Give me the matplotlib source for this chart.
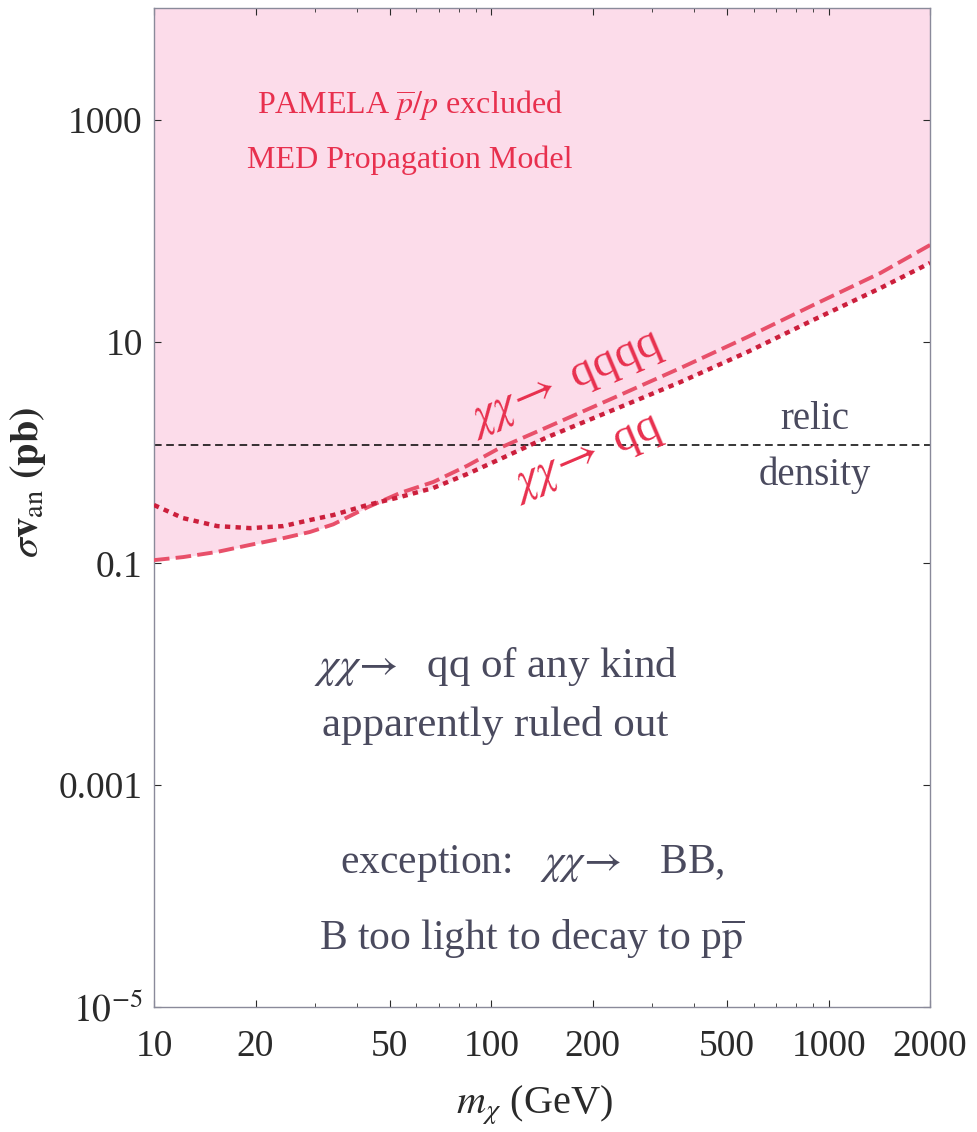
import numpy as np
import matplotlib
matplotlib.use('Agg')
import matplotlib.pyplot as plt

# data
mass = [10, 12.2, 15.4, 19.3, 24.2, 29, 34, 42.9, 53.7, 67.3, 84.9, 106,
        147, 230, 364, 575, 902, 1426, 2000]
sv_qq = [0.336, 0.256, 0.217, 0.208, 0.217, 0.246, 0.273, 0.336, 0.397,
         0.479, 0.64, 0.87, 1.38, 2.42, 4.32, 8.06, 15.7, 30.4, 51.2]
sv_qqqq = [0.107, 0.114, 0.127, 0.147, 0.169, 0.192, 0.225, 0.32, 0.432,
           0.542, 0.76, 1.10, 1.70, 3.10, 5.78, 11.0, 21.4, 41.6, 74.3]
relic = 1.17

xticks = [10, 20, 50, 100, 200, 500, 1000, 2000]
xticklabels = ['10', '20', '50', '100', '200', '500', '1000', '2000']
yticks = [1e-5, 1e-3, 1e-1, 10, 1000]
yticklabels = [r'$10^{-5}$', '0.001', '0.1', '10', '1000']

plt.rcParams['font.family'] = ['Liberation Serif', 'DejaVu Serif']
plt.rcParams['mathtext.fontset'] = 'stix'

red = '#e8304e'
textgray = '#4a4a5e'

fig = plt.figure(figsize=(9.77, 11.32), dpi=100)
ax = fig.add_axes([0.1576, 0.1104, 0.7944, 0.8826])

ax.set_xscale('log')
ax.set_yscale('log')
ax.set_xlim(10, 2000)
ax.set_ylim(1e-5, 1.02e4)

######################################################################
# excluded region and curves

lower = np.minimum(sv_qq, sv_qqqq)
ax.fill_between(mass, lower, 1.02e4, color='#fcdcea', lw=0, zorder=0)

ax.plot(mass, sv_qqqq, color='#e8506a', ls=(0, (4, 1.6)), lw=2.8, zorder=3)
ax.plot(mass, sv_qq, color='#cc1f3c', ls=(0, (1.2, 1.2)), lw=3.2, zorder=3)

ax.axhline(relic, color='k', ls=(0, (5, 3)), lw=1.1, zorder=2)

######################################################################
# annotations

ax.text(0.33, 0.876, 'PAMELA $\\overline{p}/p$ excluded\nMED Propagation Model',
        transform=ax.transAxes, ha='center', va='center', color=red,
        fontsize=23, linespacing=2.0)

ax.text(0.53, 0.625, '$\\chi\\chi\\!\\rightarrow$ qqqq', transform=ax.transAxes,
        ha='center', va='center', color=red, fontsize=34, rotation=23)
ax.text(0.557, 0.55, '$\\chi\\chi\\!\\rightarrow$ qq', transform=ax.transAxes,
        ha='center', va='center', color=red, fontsize=34, rotation=23)

ax.text(0.852, 0.56, 'relic\ndensity', transform=ax.transAxes,
        ha='center', va='center', color=textgray, fontsize=28,
        linespacing=1.65)

ax.text(0.44, 0.312, '$\\chi\\chi\\!\\rightarrow$  qq of any kind\napparently ruled out',
        transform=ax.transAxes, ha='center', va='center', color=textgray,
        fontsize=31, linespacing=1.6)

ax.text(0.487, 0.105,
        'exception:   $\\chi\\chi\\!\\rightarrow$   BB,\nB too light to decay to p$\\overline{\\rm p}$',
        transform=ax.transAxes, ha='center', va='center', color=textgray,
        fontsize=30, linespacing=2.0)

######################################################################
# axes styling

ax.set_xticks(xticks)
ax.set_xticklabels(xticklabels)
ax.set_yticks(yticks)
ax.set_yticklabels(yticklabels)
ax.tick_params(which='both', direction='in', top=True, right=True,
               labelsize=27, colors='#2a2a2a')
ax.tick_params(which='major', length=5, pad=8)
ax.tick_params(which='minor', length=3)
ax.tick_params(axis='x', which='major', pad=16)
for s in ax.spines.values():
    s.set_color('#8a8a9a')
    s.set_linewidth(1.0)

ax.set_xlabel(r'$m_\chi$ (GeV)', fontsize=29, color='#2a2a2a')
ax.set_ylabel(r'$\sigma\mathbf{v}_{\rm an}$ $\mathbf{(pb)}$', fontsize=29,
              color='#2a2a2a')
ax.xaxis.set_label_coords(0.49, -0.076)
ax.yaxis.set_label_coords(-0.136, 0.525)

plt.savefig('out.png', dpi=100)
